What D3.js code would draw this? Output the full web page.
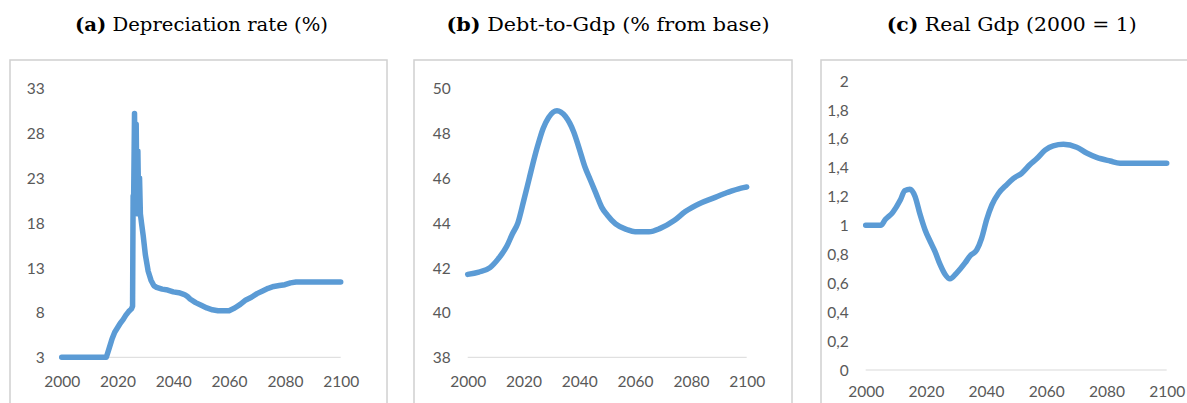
<!DOCTYPE html>
<html>
<head>
<meta charset="utf-8">
<script src="https://cdn.jsdelivr.net/npm/d3@7"></script>
<style>
  html, body { margin: 0; padding: 0; background: #ffffff; }
  svg { display: block; }
</style>
</head>
<body>
<svg id="chart" width="1187" height="403"></svg>
<script>
// ---- data ----
const xTicks = [2000, 2020, 2040, 2060, 2080, 2100];

// (a) Depreciation rate (%)
const depYears = [2000, 2005, 2010, 2016, 2017, 2018, 2019, 2020, 2021, 2022, 2023, 2024, 2025, 2025.4,
  2025.6, 2025.8, 2026.1, 2026.4, 2026.7, 2027, 2027.3, 2027.6, 2027.9, 2028.2, 2028.6, 2029.2, 2030,
  2031, 2032, 2033, 2034, 2036, 2038, 2040, 2042, 2044, 2045, 2046, 2048, 2050, 2052, 2054, 2056,
  2058, 2060, 2062, 2064, 2066, 2068, 2070, 2072, 2074, 2076, 2078, 2080, 2082, 2084, 2090, 2095, 2100];
const depValues = [3, 3, 3, 3, 4.0, 5.0, 5.8, 6.3, 6.8, 7.2, 7.7, 8.1, 8.4, 8.7,
  21, 21, 30.2, 20, 29, 19, 26, 19.5, 23, 19, 18, 16.6, 14.4,
  12.6, 11.6, 11.0, 10.8, 10.6, 10.5, 10.3, 10.2, 10.0, 9.8, 9.5, 9.1, 8.8, 8.5, 8.3, 8.2,
  8.2, 8.2, 8.5, 8.9, 9.4, 9.7, 10.1, 10.4, 10.7, 10.9, 11.0, 11.1, 11.3, 11.4, 11.4, 11.4, 11.4];
const depTicks = [3, 8, 13, 18, 23, 28, 33];

// (b) Debt-to-Gdp (% from base)
const debtYears = [2000, 2004, 2008, 2011, 2014, 2016, 2018, 2020, 2022, 2024, 2025, 2027, 2029, 2032,
  2035, 2038, 2040, 2042, 2044, 2046, 2048, 2050, 2053, 2057, 2060, 2065, 2069, 2074, 2078, 2083,
  2088, 2093, 2098, 2100];
const debtValues = [41.7, 41.8, 42.0, 42.4, 42.95, 43.5, 44.0, 44.95, 45.95, 46.95, 47.4, 48.2, 48.7, 49.0,
  48.75, 48.05, 47.3, 46.5, 45.9, 45.3, 44.7, 44.35, 43.95, 43.7, 43.6, 43.6, 43.75, 44.1, 44.5, 44.85,
  45.1, 45.35, 45.55, 45.6];
const debtTicks = [38, 40, 42, 44, 46, 48, 50];

// (c) Real Gdp (2000 = 1)
const gdpYears = [2000, 2005, 2006.5, 2009, 2011.5, 2013, 2014.7, 2016.4, 2018, 2019.7, 2021.4, 2023,
  2024.7, 2026.4, 2028, 2030.2, 2033, 2034.7, 2036.9, 2038.5, 2040.2, 2041.9, 2044.1, 2046.8, 2049.1,
  2051.8, 2054.6, 2056.8, 2059.6, 2062.3, 2065.7, 2070.1, 2073.4, 2076.7, 2081.2, 2084.5, 2090, 2100];
const gdpValues = [1.0, 1.0, 1.04, 1.09, 1.175, 1.24, 1.25, 1.2, 1.08, 0.97, 0.89, 0.82,
  0.73, 0.66, 0.63, 0.67, 0.74, 0.79, 0.83, 0.91, 1.04, 1.14, 1.22, 1.28, 1.325,
  1.36, 1.42, 1.46, 1.52, 1.55, 1.56, 1.54, 1.50, 1.47, 1.445, 1.43, 1.43, 1.43];
const gdpTicks = [0, 0.2, 0.4, 0.6, 0.8, 1, 1.2, 1.4, 1.6, 1.8, 2];

const panelLabels = ["(a)", "(b)", "(c)"];
const panelTitles = ["Depreciation rate (%)", "Debt-to-Gdp (% from base)", "Real Gdp (2000 = 1)"];

// ---- layout ----
const svg = d3.select("#chart");
const lineColor = "#5B9BD5";
const textColor = "#595959";

const panels = [
  { years: depYears, values: depValues, ticks: depTicks, domain: [3, 33],
    frame: [10, 60, 377, 360], x: [61.7, 340.7], y: [357.3, 88.3], xLabOff: 24.5,
    titleCx: 201.5, titleW: 253, curve: d3.curveLinear, fmt: d => String(d) },
  { years: debtYears, values: debtValues, ticks: debtTicks, domain: [38, 50],
    frame: [414, 60, 378, 360], x: [467.7, 746.7], y: [357.3, 88.3], xLabOff: 24.5,
    titleCx: 608, titleW: 323, curve: d3.curveMonotoneX, fmt: d => String(d) },
  { years: gdpYears, values: gdpValues, ticks: gdpTicks, domain: [0, 2],
    frame: [821, 60, 400, 360], x: [865.7, 1166.7], y: [370, 80.7], xLabOff: 22,
    titleCx: 1011.7, titleW: 250, curve: d3.curveMonotoneX,
    fmt: d => d3.format("~g")(d).replace(".", ",") }
];

panels.forEach((p, i) => {
  const g = svg.append("g");

  // chart frame
  g.append("rect")
    .attr("x", p.frame[0]).attr("y", p.frame[1])
    .attr("width", p.frame[2]).attr("height", p.frame[3])
    .attr("fill", "none").attr("stroke", "#d0d0d0").attr("stroke-width", 1.5);

  const x = d3.scaleLinear().domain([2000, 2100]).range(p.x);
  const y = d3.scaleLinear().domain(p.domain).range(p.y);

  // horizontal category axis line
  g.append("line")
    .attr("x1", x(2000)).attr("x2", x(2100))
    .attr("y1", y(p.domain[0])).attr("y2", y(p.domain[0]))
    .attr("stroke", "#d9d9d9").attr("stroke-width", 1);

  // y axis labels
  const ya = g.append("g")
    .attr("transform", `translate(${p.x[0] - 17},0)`)
    .call(d3.axisLeft(y).tickValues(p.ticks).tickSize(0).tickPadding(0).tickFormat(p.fmt));
  ya.select(".domain").remove();
  ya.selectAll("text")
    .attr("fill", textColor).attr("font-family", "Lato, 'Open Sans', sans-serif")
    .attr("font-size", 15.5).attr("dy", "0.35em");

  // x axis labels
  const xa = g.append("g")
    .attr("transform", `translate(0,${y(p.domain[0]) + p.xLabOff})`)
    .call(d3.axisBottom(x).tickValues(xTicks).tickSize(0).tickPadding(0).tickFormat(d3.format("d")));
  xa.select(".domain").remove();
  xa.selectAll("text")
    .attr("fill", textColor).attr("font-family", "Lato, 'Open Sans', sans-serif")
    .attr("font-size", 15.5).attr("dy", "0.35em");

  // series line
  const pts = p.years.map((yr, k) => [yr, p.values[k]]);
  g.append("path")
    .datum(pts)
    .attr("fill", "none")
    .attr("stroke", lineColor)
    .attr("stroke-width", 5.5)
    .attr("stroke-linejoin", "round")
    .attr("stroke-linecap", "round")
    .attr("d", d3.line().x(d => x(d[0])).y(d => y(d[1])).curve(p.curve));

  // panel caption
  const t = svg.append("text")
    .attr("x", p.titleCx).attr("y", 31)
    .attr("text-anchor", "middle")
    .attr("font-family", "'DejaVu Serif', 'Liberation Serif', serif")
    .attr("font-size", 18)
    .attr("fill", "#000");
  t.append("tspan").attr("font-weight", "bold").text(panelLabels[i]);
  t.append("tspan").text(" " + panelTitles[i]);
  t.attr("textLength", p.titleW).attr("lengthAdjust", "spacingAndGlyphs");
});
</script>
</body>
</html>
